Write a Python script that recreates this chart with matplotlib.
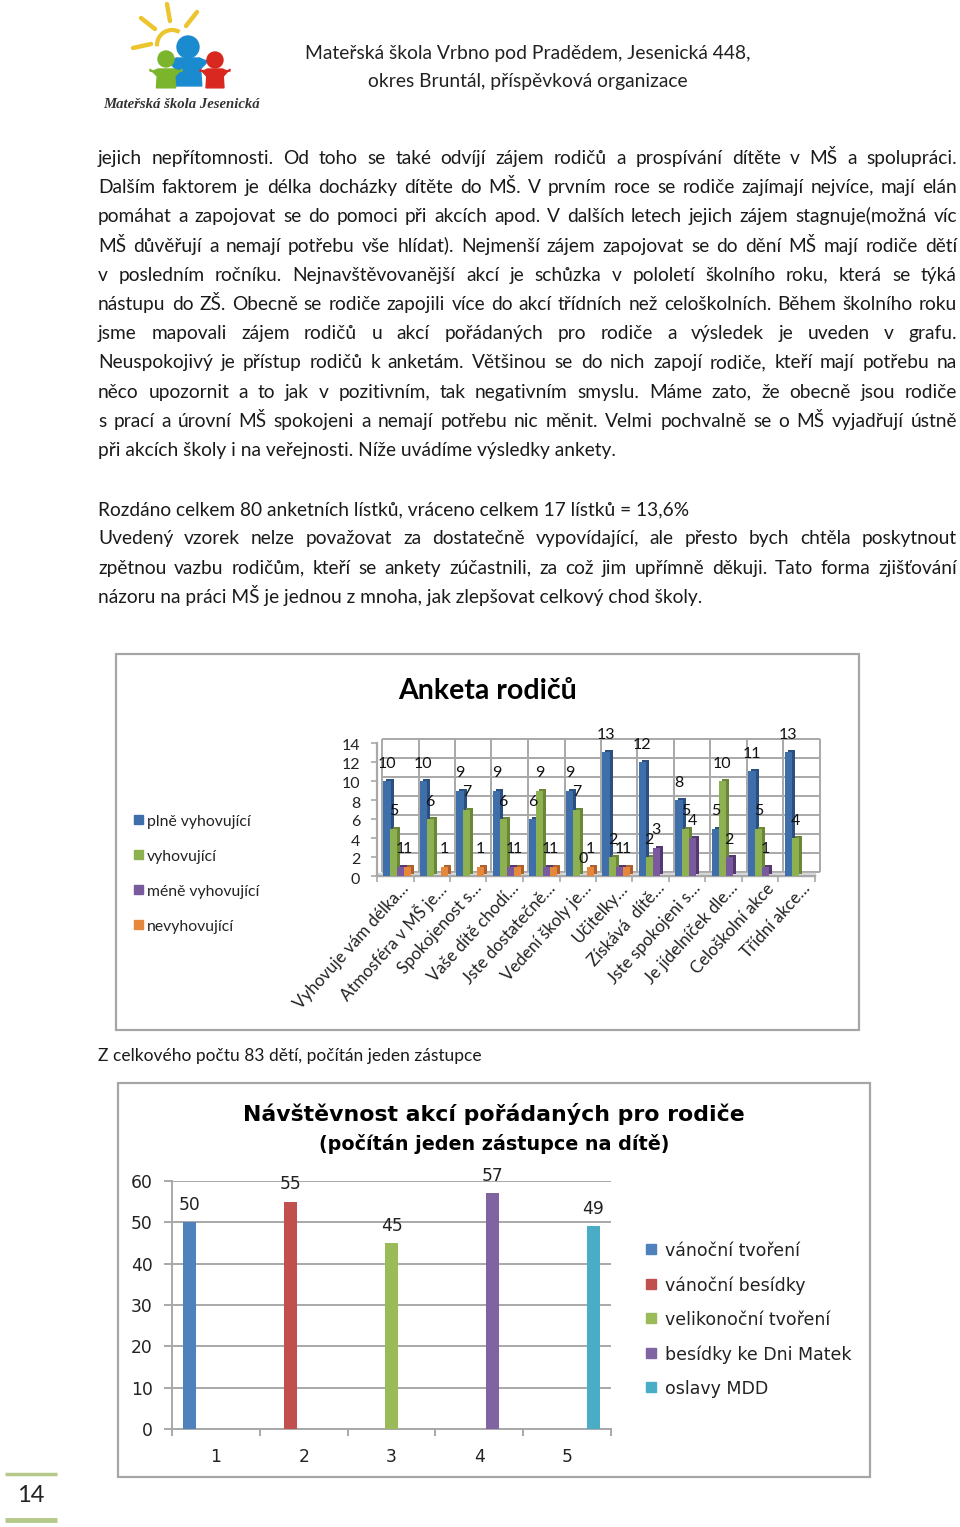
#!/usr/bin/env python3
# -*- coding: utf-8 -*-
import matplotlib
matplotlib.use('Agg')
import matplotlib.pyplot as plt
import matplotlib.patches as patches
import matplotlib.transforms as mtrans
import numpy as np

W, H = 960, 1527

# ---- page text
header = ['Mateřská škola Vrbno pod Pradědem, Jesenická 448,',
          'okres Bruntál, příspěvková organizace']
para1 = ['jejich nepřítomnosti. Od toho se také odvíjí zájem rodičů a prospívání dítěte v MŠ a spolupráci.',
         'Dalším faktorem je délka docházky dítěte do MŠ. V prvním roce se rodiče zajímají nejvíce, mají elán',
         'pomáhat a zapojovat se do pomoci při akcích apod. V dalších letech jejich zájem stagnuje(možná víc',
         'MŠ důvěřují a nemají potřebu vše hlídat). Nejmenší zájem zapojovat se do dění MŠ mají rodiče dětí',
         'v posledním ročníku. Nejnavštěvovanější akcí je schůzka v pololetí školního roku, která se týká',
         'nástupu do ZŠ. Obecně se rodiče zapojili více do akcí třídních než celoškolních. Během školního roku',
         'jsme mapovali zájem rodičů u akcí pořádaných pro rodiče a výsledek je uveden v grafu.',
         'Neuspokojivý je přístup rodičů k anketám. Většinou se do nich zapojí rodiče, kteří mají potřebu na',
         'něco upozornit a to jak v pozitivním, tak negativním smyslu. Máme zato, že obecně jsou rodiče',
         's prací a úrovní MŠ spokojeni a nemají potřebu nic měnit. Velmi pochvalně se o MŠ vyjadřují ústně',
         'při akcích školy i na veřejnosti. Níže uvádíme výsledky ankety.']
para2 = ['Rozdáno celkem 80 anketních lístků, vráceno celkem 17 lístků = 13,6%',
         'Uvedený vzorek nelze považovat za dostatečně vypovídající, ale přesto bych chtěla poskytnout',
         'zpětnou vazbu rodičům, kteří se ankety zúčastnili, za což jim upřímně děkuji. Tato forma zjišťování',
         'názoru na práci MŠ je jednou z mnoha, jak zlepšovat celkový chod školy.']
caption = 'Z celkového počtu 83 dětí, počítán jeden zástupce'

# ---- chart 1
survey_title = 'Anketa rodičů'
survey_cats = ['Vyhovuje vám délka…', 'Atmosféra v MŠ je…', 'Spokojenost s…', 'Vaše dítě chodí…',
               'Jste dostatečně…', 'Vedení školy je…', 'Učitelky…', 'Získává  dítě…',
               'Jste spokojeni s…', 'Je jídelníček dle…', 'Celoškolní akce', 'Třídní akce…']
plne = [10, 10, 9, 9, 6, 9, 13, 12, 8, 5, 11, 13]
vyhovujici = [5, 6, 7, 6, 9, 7, 2, 2, 5, 10, 5, 4]
mene = [1, None, None, 1, 1, 0, 1, 3, 4, 2, 1, None]
nevyhovujici = [1, 1, 1, 1, 1, 1, 1, None, None, None, None, None]
survey_names = ['plně vyhovující', 'vyhovující', 'méně vyhovující', 'nevyhovující']

# ---- chart 2
visit_title = 'Návštěvnost akcí pořádaných pro rodiče'
visit_sub = '(počítán jeden zástupce na dítě)'
visit_names = ['vánoční tvoření', 'vánoční besídky', 'velikonoční tvoření', 'besídky ke Dni Matek', 'oslavy MDD']
visit_vals = [50, 55, 45, 57, 49]
visit_ticks = [1, 2, 3, 4, 5]

survey_cols = ['#3f6fab', '#8db050', '#7a5a9e', '#e5873c']
survey_dark = ['#2b4f7e', '#6a8738', '#55386f', '#b0602a']
visit_cols = ['#4f81bd', '#c0504d', '#9bbb59', '#8064a2', '#4bacc6']
GRID = '#a8a8a8'
BODY = 'Lato'
TXT = 13.75

fig = plt.figure(figsize=(W / 100, H / 100), dpi=100)
page = fig.add_axes([0, 0, 1, 1])
page.set_xlim(0, W)
page.set_ylim(H, 0)
page.axis('off')


def px_axes(x0, y0, x1, y1):
    # axes from page pixels, y0 is the top
    return fig.add_axes([x0 / W, 1 - y1 / H, (x1 - x0) / W, (y1 - y0) / H], facecolor='none')


def justified(line, y, x0=98, x1=957, size=TXT):
    rend = fig.canvas.get_renderer()
    words = line.split()
    items = [page.text(0, y, w, family=BODY, fontsize=size, va='baseline', color='#1a1a1a') for w in words]
    widths = [t.get_window_extent(rend).width for t in items]
    gap = (x1 - x0 - sum(widths)) / (len(words) - 1)
    x = x0
    for t, w in zip(items, widths):
        t.set_x(x)
        x += w + gap


# ---- logo
for a, b in [((167, 4), (170, 21)), ((197, 12), (186, 26)), ((141, 18), (155, 29)), ((133, 48), (151, 44))]:
    page.plot([a[0], b[0]], [a[1], b[1]], color='#ecc52e', lw=3.2, solid_capstyle='round')
page.add_patch(patches.Arc((172, 45), 30, 30, theta1=175, theta2=300, color='#ecc52e', lw=3))
person = [(-1.0, 0.0), (-1.0, 0.15), (-0.7, 0.1), (-0.5, 0.0), (0.5, 0.0), (0.7, 0.1), (1.0, 0.15),
          (1.0, 0.0), (0.55, 0.5), (0.6, 1.3), (-0.6, 1.3), (-0.55, 0.5)]
for cx, top, sx, sy, r, head_y, col in [(188, 58, 23, 21.5, 11, 47, '#1b8bd0'),
                                        (166, 69, 16, 14.5, 8, 59, '#7ab52c'),
                                        (215, 69, 15, 14.5, 8, 60, '#d8281f')]:
    page.add_patch(patches.Polygon([(cx + px * sx, top + py * sy) for px, py in person], color=col, zorder=3))
    page.add_patch(patches.Circle((cx, head_y), r, color=col, zorder=3))
page.text(182, 104, 'Mateřská škola Jesenická', family='Liberation Serif', style='italic', weight='bold',
          fontsize=10.6, ha='center', va='center', color='#333333')

# ---- text blocks
page.text(527.5, 53, header[0], family=BODY, fontsize=13.9, ha='center', va='center', color='#222222')
page.text(527.5, 82, header[1], family=BODY, fontsize=13.9, ha='center', va='center', color='#222222')

y_p1 = np.linspace(164, 456, len(para1))
for i, line in enumerate(para1):
    if i == len(para1) - 1:
        page.text(98, y_p1[i], line, family=BODY, fontsize=TXT, va='baseline', color='#1a1a1a')
    else:
        justified(line, y_p1[i])
y_p2 = np.linspace(515, 603, len(para2))
for i, line in enumerate(para2):
    if i in (0, len(para2) - 1):
        page.text(98, y_p2[i], line, family=BODY, fontsize=TXT, va='baseline', color='#1a1a1a')
    else:
        justified(line, y_p2[i])
page.text(98, 1061, caption, family=BODY, fontsize=12.5, va='baseline', color='#1a1a1a')

# page number
page.text(31, 1496, '14', family=BODY, fontsize=17, ha='center', va='center', color='#222222')
page.plot([5, 57], [1474, 1474], color='#b5c98a', lw=2.5, solid_capstyle='butt')
page.plot([5, 57], [1520, 1520], color='#b5c98a', lw=3.5, solid_capstyle='butt')

# chart frames
page.add_patch(patches.Rectangle((116, 654), 743, 376, fill=False, ec='#a6a6a6', lw=1.6))
page.add_patch(patches.Rectangle((118, 1083), 752, 394, fill=False, ec='#a6a6a6', lw=1.6))

# ---- chart 1, fake 3d: back wall and bar sides are shifted copies
page.text(488, 691, survey_title, family=BODY, weight='bold', fontsize=20.5, ha='center', va='center', color='black')
y_leg = [822, 857, 892, 927]
for name, col, y in zip(survey_names, survey_cols, y_leg):
    page.add_patch(patches.Rectangle((134, y - 7), 9, 9, color=col))
    page.text(147, y, name, family=BODY, fontsize=11.3, va='center', color='#222222')

ax = px_axes(377, 743, 815, 876)
ax.set_xlim(0, 12)
ax.set_ylim(0, 14)
wall = mtrans.offset_copy(ax.transData, fig=fig, x=5, y=4, units='dots')
side = mtrans.offset_copy(ax.transData, fig=fig, x=3, y=2, units='dots')
for spine in ax.spines.values():
    spine.set_visible(False)
ax.hlines(np.arange(0, 15, 2), 0, 12, color=GRID, lw=1.4, transform=wall, clip_on=False, zorder=1)
ax.vlines(np.arange(0, 13), 0, 14, color=GRID, lw=1.4, transform=wall, clip_on=False, zorder=1)
ax.plot([0, 12], [0, 0], color=GRID, lw=1.6, clip_on=False, zorder=2)
ax.plot([0, 0], [0, 14], color=GRID, lw=1.6, clip_on=False, zorder=2)
ax.fill_between([0, 12], 0, 0.28, color='#d9d9d9', zorder=1.5, clip_on=False)

bar_w = 0.2
xpos = np.arange(12)
for s, vals in enumerate([plne, vyhovujici, mene, nevyhovujici]):
    for i, v in enumerate(vals):
        if v is None:
            continue
        x = xpos[i] + 0.17 + s * 0.19
        z = 3 + s * 0.1
        ax.bar(x, v, bar_w, align='edge', color=survey_dark[s], transform=side, clip_on=False, zorder=z)
        ax.bar(x, v, bar_w, align='edge', color=survey_cols[s], clip_on=False, zorder=z + 0.01)
        ax.annotate(str(v), (x + bar_w / 2, v), xytext=(0, 12.5), textcoords='offset points', ha='center',
                    va='center', family=BODY, fontsize=11.5, color='#111111', zorder=6, annotation_clip=False)

ax.set_yticks(np.arange(0, 15, 2))
ax.tick_params(axis='y', length=4, color=GRID, width=1.2, labelsize=11.5, pad=8, labelcolor='#222222')
ax.set_xticks(np.arange(0, 13))
ax.tick_params(axis='x', which='major', length=4, color=GRID, width=1.2, labelbottom=False)
ax.set_xticks(xpos + 0.5, minor=True)
ax.set_xticklabels(survey_cats, minor=True, rotation=48, ha='right', rotation_mode='anchor',
                   family=BODY, fontsize=12.2, color='#222222')
ax.tick_params(axis='x', which='minor', length=0, pad=3)
shift = mtrans.ScaledTranslation(5 / 100, 0, fig.dpi_scale_trans)
for t in ax.get_xticklabels(minor=True):
    t.set_transform(t.get_transform() + shift)
down = mtrans.ScaledTranslation(0, -2 / 100, fig.dpi_scale_trans)
for t in ax.get_yticklabels():
    t.set_family(BODY)
    t.set_transform(t.get_transform() + down)

# ---- chart 2
page.text(494, 1114, visit_title, family='DejaVu Sans', weight='bold', fontsize=15.85, ha='center', va='center', color='black')
page.text(494, 1144, visit_sub, family='DejaVu Sans', weight='bold', fontsize=13.75, ha='center', va='center', color='black')
y_leg2 = [1251, 1286, 1320, 1355, 1389]
for name, col, y in zip(visit_names, visit_cols, y_leg2):
    page.add_patch(patches.Rectangle((646, y - 7), 10, 10, color=col))
    page.text(665, y, name, family='DejaVu Sans', fontsize=12.5, va='center', color='#222222')

ax2 = px_axes(172, 1181, 611, 1429)
ax2.set_xlim(0.5, 5.5)
ax2.set_ylim(0, 60)
for k, spine in ax2.spines.items():
    spine.set_visible(k in ('left', 'bottom'))
    spine.set_color(GRID)
    spine.set_linewidth(1.4)
ax2.yaxis.grid(True, color=GRID, lw=1.4)
ax2.set_axisbelow(True)
bar_x = 3 + (np.arange(5) - 2) * 1.15
ax2.bar(bar_x, visit_vals, 0.15, color=visit_cols, zorder=3)
for x, v in zip(bar_x, visit_vals):
    ax2.annotate(str(v), (x, v), xytext=(0, 12.5), textcoords='offset points', ha='center', va='center',
                 fontsize=12.3, color='#222222')
ax2.set_yticks(np.arange(0, 61, 10))
ax2.tick_params(axis='y', length=6, color=GRID, width=1.4, labelsize=12.3, pad=8, labelcolor='#222222')
ax2.set_xticks(np.arange(0.5, 6))
ax2.tick_params(axis='x', which='major', length=5, color=GRID, width=1.4, labelbottom=False)
ax2.set_xticks(visit_ticks, minor=True)
ax2.set_xticklabels(visit_ticks, minor=True, fontsize=12.3, color='#222222')
ax2.tick_params(axis='x', which='minor', length=0, pad=14)

fig.savefig('out.png', dpi=100)
